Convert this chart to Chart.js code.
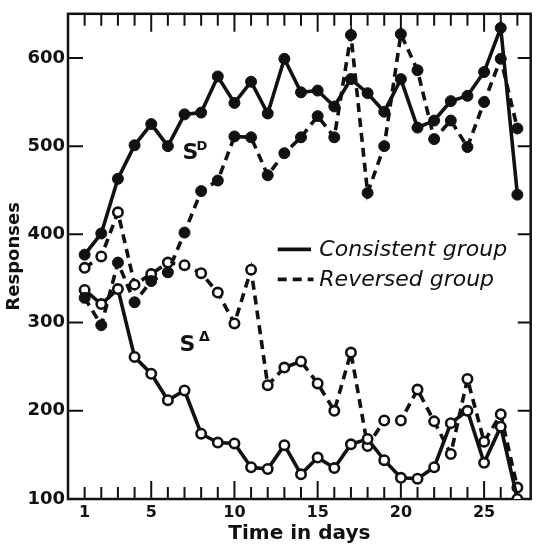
<!DOCTYPE html>
<html>
<head>
<meta charset="utf-8">
<script src="https://cdn.jsdelivr.net/npm/chart.js@4.4.0/dist/chart.umd.min.js"></script>
<style>
  html, body { margin: 0; padding: 0; background: #fff; }
  #wrap { width: 538px; height: 547px; }
</style>
</head>
<body>
<div id="wrap"><canvas id="chart" width="538" height="547"></canvas></div>
<script>
const days = [1, 2, 3, 4, 5, 6, 7, 8, 9, 10, 11, 12, 13, 14, 15, 16, 17, 18, 19, 20, 21, 22, 23, 24, 25, 26, 27]
// S-D responses (filled dots)
const consistentSD = [377, 401, 463, 501, 525, 500, 536, 538, 579, 549, 573, 537, 599, 561, 563, 545, 576, 560, 539, 576, 521, 529, 551, 557, 584, 634, 445]
const reversedSD = [328, 297, 368, 323, 347, 357, 402, 449, 461, 511, 510, 467, 492, 510, 534, 510, 626, 447, 500, 627, 586, 508, 529, 499, 550, 599, 520]
// S-delta responses (open circles)
const consistentSDelta = [337, 321, 338, 261, 242, 212, 223, 174, 164, 163, 136, 134, 161, 128, 147, 135, 162, 168, 144, 124, 123, 136, 186, 200, 141, 182, 100]
const reversedSDelta = [362, 375, 425, 343, 355, 368, 365, 356, 334, 299, 360, 229, 249, 256, 231, 200, 266, 160, 189, 189, 224, 188, 151, 236, 165, 196, 113]
const xTicks = [1, 5, 10, 15, 20, 25]
const yTicks = [100, 200, 300, 400, 500, 600]

const ink = '#111'
Chart.defaults.font.family = 'DejaVu Sans'
Chart.defaults.color = ink
Chart.defaults.animation = false
Chart.defaults.plugins.legend.display = false
Chart.defaults.plugins.tooltip.enabled = false

const pts = (vals) => days.map((d, i) => ({x: d, y: vals[i]}))

const dash = [9, 6]
const filled = {pointBackgroundColor: ink, pointBorderColor: ink, pointRadius: 5.5, pointBorderWidth: 1}
const open = {pointBackgroundColor: '#fff', pointBorderColor: ink, pointRadius: 4.7, pointBorderWidth: 2.6}

// frame with inward ticks, drawn under the data
const frame = {
  id: 'frame',
  beforeDatasetsDraw(chart) {
    const {ctx, chartArea: a, scales: {x, y}} = chart
    ctx.save()
    ctx.strokeStyle = ink
    ctx.lineWidth = 2.5
    ctx.strokeRect(a.left, a.top, a.right - a.left, a.bottom - a.top)
    ctx.lineWidth = 2
    ctx.beginPath()
    days.forEach((d) => {
      const px = x.getPixelForValue(d)
      const len = d % 5 === 0 ? 18 : 12
      ctx.moveTo(px, a.top); ctx.lineTo(px, a.top + len)
      ctx.moveTo(px, a.bottom); ctx.lineTo(px, a.bottom - len)
    })
    yTicks.forEach((v) => {
      const py = y.getPixelForValue(v)
      if (v > 100) { ctx.moveTo(a.left, py); ctx.lineTo(a.left + 15, py) }
      ctx.moveTo(a.right, py); ctx.lineTo(a.right - 13, py)
    })
    ctx.stroke()
    ctx.restore()
  },
  afterDatasetsDraw(chart) {
    const {ctx, scales: {x, y}} = chart
    ctx.save()
    ctx.strokeStyle = ink
    ctx.fillStyle = ink
    // legend
    ctx.lineWidth = 3.6
    ctx.beginPath()
    ctx.moveTo(x.getPixelForValue(12.6), y.getPixelForValue(383))
    ctx.lineTo(x.getPixelForValue(14.6), y.getPixelForValue(383))
    ctx.stroke()
    ctx.setLineDash(dash)
    ctx.beginPath()
    ctx.moveTo(x.getPixelForValue(12.6), y.getPixelForValue(349))
    ctx.lineTo(x.getPixelForValue(14.75), y.getPixelForValue(349))
    ctx.stroke()
    ctx.setLineDash([])
    ctx.font = 'italic 22px DejaVu Sans'
    ctx.textBaseline = 'middle'
    ctx.textAlign = 'left'
    ctx.fillText('Consistent group', x.getPixelForValue(15.1), y.getPixelForValue(382))
    ctx.fillText('Reversed group', x.getPixelForValue(15.1), y.getPixelForValue(348))
    // curve labels
    ctx.textAlign = 'center'
    ctx.font = 'bold 22px DejaVu Sans'
    ctx.fillText('S', x.getPixelForValue(7.36), y.getPixelForValue(492))
    ctx.fillText('S', x.getPixelForValue(7.18), y.getPixelForValue(274))
    ctx.font = 'bold 13px DejaVu Sans'
    ctx.fillText('D', x.getPixelForValue(8.05), y.getPixelForValue(500))
    ctx.font = 'bold 14px DejaVu Sans'
    ctx.fillText('Δ', x.getPixelForValue(8.2), y.getPixelForValue(283))
    ctx.restore()
  }
}

new Chart(document.getElementById('chart'), {
  type: 'line',
  data: {
    datasets: [
      {data: pts(consistentSD), borderColor: ink, borderWidth: 3.6, ...filled},
      {data: pts(reversedSD), borderColor: ink, borderWidth: 3.6, borderDash: dash, ...filled},
      {data: pts(consistentSDelta), borderColor: ink, borderWidth: 3.6, ...open},
      {data: pts(reversedSDelta), borderColor: ink, borderWidth: 3.6, borderDash: dash, ...open},
    ],
  },
  options: {
    responsive: false,
    layout: {padding: {top: 11, right: 0, left: 0, bottom: 0}},
    elements: {line: {tension: 0}},
    scales: {
      x: {
        type: 'linear',
        min: 0,
        max: 27.8,
        afterBuildTicks: (s) => { s.ticks = xTicks.map((v) => ({value: v})) },
        afterFit: (s) => { s.height = 48 },
        grid: {display: false, drawTicks: false},
        border: {display: false},
        ticks: {padding: 4, font: {size: 16, weight: 'bold'}, color: ink, maxRotation: 0},
        title: {display: true, text: 'Time in days', font: {size: 20, weight: 'bold'}, color: ink, padding: {top: 0, bottom: 1}},
      },
      y: {
        min: 100,
        max: 650,
        afterBuildTicks: (s) => { s.ticks = yTicks.map((v) => ({value: v})) },
        afterFit: (s) => { s.width = 68 },
        grid: {display: false, drawTicks: false},
        border: {display: false},
        ticks: {padding: 3, font: {size: 18, weight: 'bold'}, color: ink},
        title: {display: true, text: 'Responses', font: {size: 18, weight: 'bold'}, color: ink, padding: {top: 4, bottom: 0}},
      },
    },
  },
  plugins: [frame],
})
</script>
</body>
</html>
